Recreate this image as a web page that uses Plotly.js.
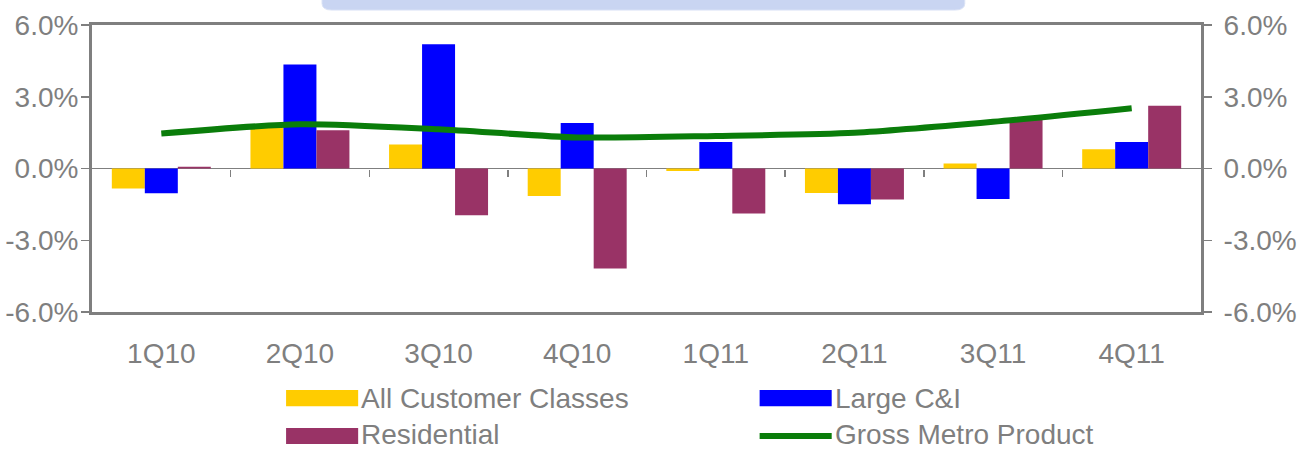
<!DOCTYPE html>
<html>
<head>
<meta charset="utf-8">
<script src="https://cdn.plot.ly/plotly-3.0.1.min.js"></script>
<style>html,body{margin:0;padding:0;background:#fff;}#chart{width:1299px;height:453px;}</style>
</head>
<body>
<div id="chart"></div>
<script>
const categories = ['1Q10','2Q10','3Q10','4Q10','1Q11','2Q11','3Q11','4Q11'];
const allCustomer = [-0.84, 1.70, 1.00, -1.15, -0.10, -1.02, 0.21, 0.80];
const largeCI = [-1.03, 4.35, 5.20, 1.90, 1.11, -1.49, -1.28, 1.11];
const residential = [0.07, 1.60, -1.95, -4.18, -1.88, -1.30, 2.06, 2.62];
const grossMetro = [1.46, 1.85, 1.64, 1.30, 1.36, 1.49, 1.95, 2.52];
const seriesNames = ['All Customer Classes','Large C&I','Residential','Gross Metro Product'];
const yTickVals = [-6, -3, 0, 3, 6];
const yTickText = ['-6.0%','-3.0%','0.0%','3.0%','6.0%'];

const colors = ['#FFCC00','#0000FF','#993366','#0A7D0A'];
const gray = '#7f7f7f';
const font = {family:'Liberation Sans, Arial, sans-serif', size:28, color:gray};
const idx = categories.map((c,i)=>i);
const boundaries = categories.slice(1).map((c,i)=>i+0.5);

const traces = [
  {type:'bar', x:categories, y:allCustomer, name:seriesNames[0], marker:{color:colors[0]}, xaxis:'x', yaxis:'y'},
  {type:'bar', x:categories, y:largeCI, name:seriesNames[1], marker:{color:colors[1]}, xaxis:'x', yaxis:'y'},
  {type:'bar', x:categories, y:residential, name:seriesNames[2], marker:{color:colors[2]}, xaxis:'x', yaxis:'y'},
  {type:'scatter', mode:'lines', x:idx, y:grossMetro, name:seriesNames[3], line:{color:colors[3], width:6, shape:'spline', smoothing:0.7}, xaxis:'x2', yaxis:'y2'}
];

// custom legend
const legendPos = [
  {x0:0.175, x1:0.240, y:-0.300},
  {x0:0.602, x1:0.667, y:-0.300},
  {x0:0.175, x1:0.240, y:-0.432},
  {x0:0.602, x1:0.667, y:-0.432}
];
const shapes = [];
const annotations = [];
seriesNames.forEach((n,i)=>{
  const p = legendPos[i];
  if (i < 3) {
    shapes.push({type:'rect', xref:'paper', yref:'paper', x0:p.x0, x1:p.x1, y0:p.y-0.028, y1:p.y+0.028, fillcolor:colors[i], line:{width:0}});
  } else {
    shapes.push({type:'line', xref:'paper', yref:'paper', x0:p.x0, x1:p.x1, y0:p.y, y1:p.y, line:{color:colors[i], width:6}});
  }
  const a = {xref:'paper', yref:'paper', x:p.x1+0.002, xanchor:'left', text:n, showarrow:false, font:font, borderpad:0};
  if (i < 2) { a.y = p.y; a.yanchor = 'middle'; }
  else { a.y = -0.4860; a.yanchor = 'bottom'; }
  annotations.push(a);
});
// top banner (partially visible)
shapes.push({type:'path', xref:'paper', yref:'paper', layer:'below',
  path:'M 0.2074,1.12 L 0.2074,1.075 Q 0.2074,1.052 0.2164,1.052 L 0.778,1.052 Q 0.787,1.052 0.787,1.075 L 0.787,1.12 Z',
  fillcolor:'#c9d5f2', line:{color:'#dbe3f6', width:1}});

const layout = {
  width:1299, height:453,
  margin:{l:92, r:98, t:25, b:141},
  paper_bgcolor:'#ffffff', plot_bgcolor:'#ffffff',
  font:font,
  showlegend:false,
  barmode:'group', bargap:0.286, bargroupgap:0,
  xaxis:{type:'category', range:[-0.5,7.5], showline:true, linecolor:gray, linewidth:3, mirror:true,
         ticks:'', showgrid:false, tickfont:font, ticklabelstandoff:14, zeroline:false},
  xaxis2:{overlaying:'x', anchor:'free', position:0.5, range:[-0.5,7.5], tickmode:'array', tickvals:boundaries,
          ticks:'outside', ticklen:7, tickwidth:1.5, tickcolor:gray, showticklabels:false, showline:false, showgrid:false, zeroline:false, layer:'below traces'},
  yaxis:{range:[-6,6], tickmode:'array', tickvals:yTickVals, ticktext:yTickText, ticks:'outside', ticklen:8, tickwidth:1.5, tickcolor:gray,
         showline:true, linecolor:gray, linewidth:3, showgrid:false, zeroline:true, zerolinecolor:gray, zerolinewidth:1.5, tickfont:font, ticklabelstandoff:-3},
  yaxis2:{overlaying:'y', side:'right', anchor:'x', range:[-6,6], tickmode:'array', tickvals:yTickVals, ticktext:yTickText, ticks:'outside', ticklen:8, tickwidth:1.5, tickcolor:gray,
          showline:true, linecolor:gray, linewidth:3, showgrid:false, zeroline:false, tickfont:font, ticklabelstandoff:6},
  shapes:shapes,
  annotations:annotations
};
Plotly.newPlot('chart', traces, layout, {staticPlot:true, displayModeBar:false});
</script>
</body>
</html>
